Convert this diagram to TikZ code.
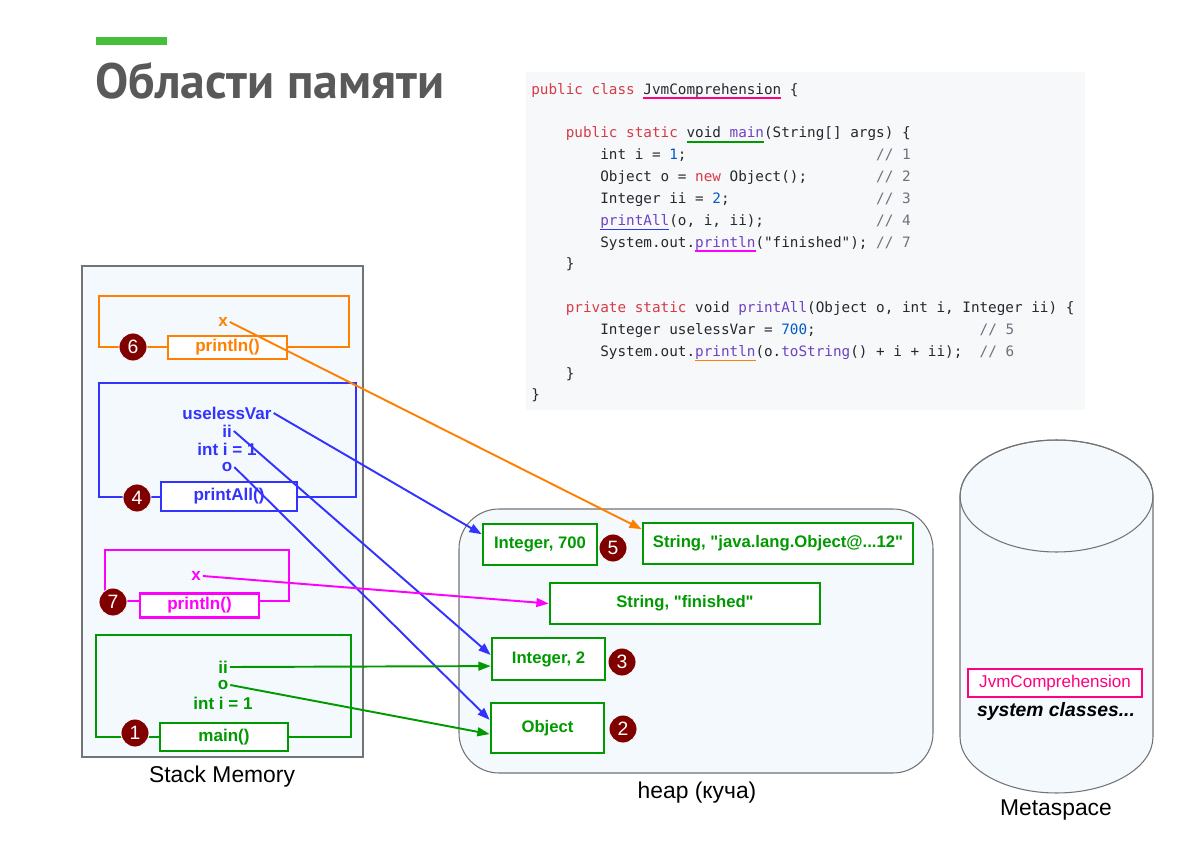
\documentclass[tikz,border=0pt]{standalone}
\usepackage{fontspec}
\setmainfont{Liberation Sans}[Ligatures=TeXOff]
\setmonofont{DejaVu Sans Mono}
\newfontfamily\titlefont{PT Sans}
\usetikzlibrary{arrows.meta}
\definecolor{cOrange}{HTML}{FF8000}
\definecolor{cBlue}{HTML}{3333FF}
\definecolor{cMagenta}{HTML}{FF00FF}
\definecolor{cGreen}{HTML}{009900}
\definecolor{cPink}{HTML}{FF0080}
\definecolor{cBadge}{HTML}{800000}
\definecolor{cPanel}{HTML}{F4F9FD}
\definecolor{cCode}{HTML}{F6F8FA}
\definecolor{cTitle}{HTML}{595959}
\definecolor{cBar}{HTML}{46BE3A}
\definecolor{cText}{HTML}{24292E}
\definecolor{cKw}{HTML}{D73A49}
\definecolor{cFn}{HTML}{6F42C1}
\definecolor{cNum}{HTML}{005CC5}
\definecolor{cCmt}{HTML}{6A737D}
\newlength\cwd
\newsavebox\ulbox
\newcommand{\uln}[2]{\sbox\ulbox{#2}\rlap{\color{#1}\rule[-3pt]{\wd\ulbox}{1.1pt}}\usebox\ulbox}
\newcommand{\ckw}[1]{\textcolor{cKw}{#1}}
\newcommand{\cfn}[1]{\textcolor{cFn}{#1}}
\newcommand{\cnum}[1]{\textcolor{cNum}{#1}}
\newcommand{\ccmt}[1]{\textcolor{cCmt}{#1}}
\newcommand{\spc}[1]{\hspace*{#1\cwd}}
\begin{document}
\begin{tikzpicture}[x=0.02cm, y=-0.02cm,
  frm/.style={draw=#1, line width=1.5pt},
  call/.style={draw=#1, line width=1.5pt, fill=white, text=#1, inner sep=0pt, font=\fontsize{9.7}{11}\selectfont\bfseries},
  var/.style={text=#1, inner sep=1pt, font=\fontsize{9.7}{11}\selectfont\bfseries},
  obj/.style={draw=cGreen, line width=1.5pt, fill=white, text=cGreen, inner sep=0pt, font=\fontsize{9.5}{11}\selectfont\bfseries},
  badge/.style={circle, fill=cBadge, draw=white, line width=0.5pt, text=white, minimum size=0.56cm, inner sep=0pt, font=\fontsize{11}{13}\selectfont},
  ref/.style={-{Triangle[length=7pt,width=5pt]}, line width=1.1pt, draw=#1},
  panel/.style={draw=black!55, fill=cPanel, line width=0.6pt},
  caption/.style={inner sep=0pt, font=\fontsize{13}{15}\selectfont}]
\useasboundingbox (0,0) rectangle (1196,851);
\fill[cBar] (96,37) rectangle (167,45);
\node[anchor=base west, inner sep=0pt, text=cTitle, font=\titlefont\fontsize{28.3}{34}\selectfont\bfseries] (title) at (95,99) {Области памяти};

\fill[cCode] (526,72) rectangle (1085,410);
\node[anchor=north west, inner sep=0pt, align=left, text=cText, font={\ttfamily\fontsize{8.15}{12.43}\selectfont\settowidth\cwd{x}}] (code) at (531,78.5) {%
\strut\ckw{public} \ckw{class} \uln{cPink}{JvmComprehension} \{\\
\mbox{}\\
\mbox{}\spc{4}\ckw{public} \ckw{static} \uln{cGreen}{void \cfn{main}}(String[] args) \{\\
\mbox{}\spc{8}int i = \cnum{1};\spc{22}\ccmt{// 1}\\
\mbox{}\spc{8}Object o = \ckw{new} Object();\spc{8}\ccmt{// 2}\\
\mbox{}\spc{8}Integer ii = \cnum{2};\spc{17}\ccmt{// 3}\\
\mbox{}\spc{8}\uln{cBlue}{\cfn{printAll}}(o, i, ii);\spc{13}\ccmt{// 4}\\
\mbox{}\spc{8}System.out.\uln{cMagenta}{\cfn{println}}("finished");\spc{1}\ccmt{// 7}\\
\mbox{}\spc{4}\}\\
\mbox{}\\
\mbox{}\spc{4}\ckw{private} \ckw{static} void \cfn{printAll}(Object o, int i, Integer ii) \{\\
\mbox{}\spc{8}Integer uselessVar = \cnum{700};\spc{19}\ccmt{// 5}\\
\mbox{}\spc{8}System.out.\uln{cOrange}{\cfn{println}}(o.\cfn{toString}() + i + ii);\spc{2}\ccmt{// 6}\\
\mbox{}\spc{4}\}\\
\mbox{}\}};

\draw[panel] (82,266) rectangle (363,757);
\node[caption] (stackcap) at (222,777) {Stack Memory};
\draw[panel, rounded corners=0.8cm] (459,509) rectangle (933,773);
\node[caption] (heapcap) at (697,793) {heap (куча)};
\draw[panel] (960,496) -- (960,737) arc[start angle=180, end angle=360, x radius=1.93cm, y radius=1.12cm] -- (1153,496) arc[start angle=0, end angle=180, x radius=1.93cm, y radius=1.12cm] -- cycle;
\draw[draw=black!55, line width=0.6pt] (1056.5,496) ellipse [x radius=1.93cm, y radius=1.12cm];
\node[caption] (metacap) at (1056,810) {Metaspace};

\draw[frm=cOrange] (99,296) rectangle (349,347);
\node[call=cOrange, minimum width=2.38cm, minimum height=0.46cm] (pl6) at (227.5,347.5) {println()};
\node[badge] (b6) at (133,347) {6};
\node[var=cOrange] (x6) at (223,322) {x};

\draw[frm=cBlue] (99,383) rectangle (356,497);
\node[call=cBlue, minimum width=2.72cm, minimum height=0.58cm] (pa4) at (229,496.5) {printAll()};
\node[badge] (b4) at (137,498) {4};
\node[var=cBlue] (uv4) at (227,413) {uselessVar};
\node[var=cBlue] (ii4) at (227,431) {ii};
\node[var=cBlue] (i4) at (227,449) {int i = 1};
\node[var=cBlue] (o4) at (227,467) {o};

\draw[frm=cMagenta] (105,550) rectangle (289,601);
\node[call=cMagenta, minimum width=2.38cm, minimum height=0.48cm] (pl7) at (199.5,605.5) {println()};
\node[badge] (b7) at (113,602) {7};
\node[var=cMagenta] (x7) at (196,576) {x};

\draw[frm=cGreen] (96,635) rectangle (351,737);
\node[call=cGreen, minimum width=2.56cm, minimum height=0.56cm] (mn1) at (224,737) {main()};
\node[badge] (b1) at (135,733) {1};
\node[var=cGreen] (ii1) at (223,667) {ii};
\node[var=cGreen] (o1) at (223,685) {o};
\node[var=cGreen] (i1) at (223,703) {int i = 1};

\node[obj, minimum width=2.28cm, minimum height=0.82cm] (int700) at (540,544.5) {Integer, 700};
\node[obj, minimum width=5.4cm, minimum height=0.82cm] (strjava) at (778,543.5) {String, "java.lang.Object@...12"};
\node[obj, minimum width=5.4cm, minimum height=0.82cm] (strfin) at (685,603.5) {String, "finished"};
\node[obj, minimum width=2.26cm, minimum height=0.84cm] (int2) at (548.5,659) {Integer, 2};
\node[obj, minimum width=2.26cm, minimum height=1.0cm] (obj) at (547.5,728) {Object};
\node[badge] (b5) at (613,548) {5};
\node[badge] (b3) at (622,662) {3};
\node[badge] (b2) at (623,729) {2};

\node[draw=cPink, line width=1.2pt, fill=white, text=cPink, minimum width=3.48cm, minimum height=0.56cm, inner sep=0pt, font=\fontsize{9.7}{11}\selectfont] (jvmc) at (1055,683) {JvmComprehension};
\node[inner sep=0pt, font=\fontsize{11}{13}\selectfont\bfseries\itshape] (sysc) at (1056,711) {system classes...};

\draw[ref=cOrange] (x6.east) -- (strjava.174);
\draw[ref=cBlue] (uv4.east) -- (int700.170);
\draw[ref=cBlue] (ii4.east) -- (int2.176);
\draw[ref=cBlue] (o4.east) -- (obj.172);
\draw[ref=cMagenta] (x7.east) -- (strfin.west);
\draw[ref=cGreen] (ii1.east) -- (int2.187);
\draw[ref=cGreen] (o1.east) -- (obj.186);
\end{tikzpicture}
\end{document}
